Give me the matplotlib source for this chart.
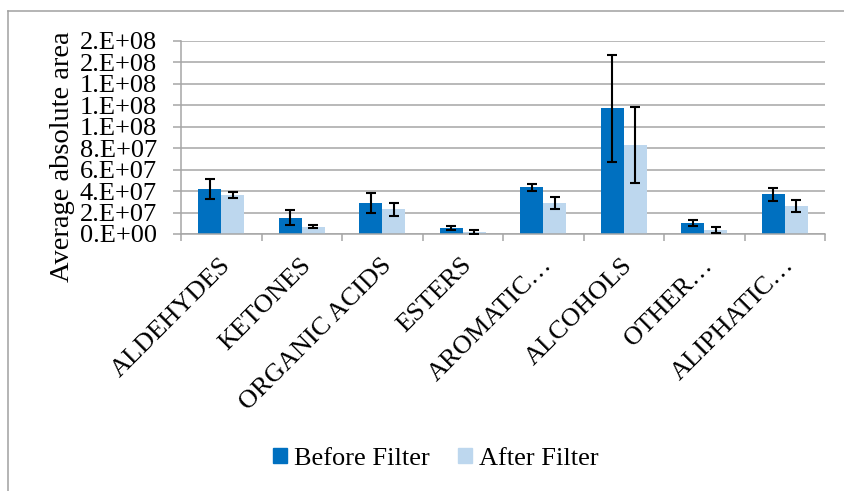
import matplotlib
matplotlib.use("Agg")
import matplotlib.pyplot as plt
from matplotlib.patches import Patch
from matplotlib.lines import Line2D
from matplotlib.ticker import FuncFormatter, MultipleLocator
import numpy as np

plt.rcParams['font.family'] = ['Liberation Serif', 'DejaVu Serif']

categories = ["ALDEHYDES", "KETONES", "ORGANIC ACIDS", "ESTERS",
              "AROMATIC…", "ALCOHOLS", "OTHER…", "ALIPHATIC…"]
before_filter = [4.22e7, 1.52e7, 2.89e7, 0.56e7, 4.34e7, 11.7e7, 1.02e7, 3.69e7]
before_err = [0.92e7, 0.68e7, 0.95e7, 0.22e7, 0.31e7, 5.0e7, 0.27e7, 0.59e7]
after_filter = [3.63e7, 0.68e7, 2.30e7, 0.19e7, 2.89e7, 8.32e7, 0.37e7, 2.60e7]
after_err = [0.28e7, 0.16e7, 0.59e7, 0.16e7, 0.53e7, 3.54e7, 0.28e7, 0.54e7]

C_BEFORE = "#0070C0"
C_AFTER = "#BDD7EE"
GRID = "#A6A6A6"
PX = 72 / 100  # points per pixel at 100 dpi
FS = 19

fig = plt.figure(figsize=(8.44, 4.91), dpi=100)
ax = fig.add_axes([181/844, 1 - 234/491, (825 - 181)/844, (234 - 40.7)/491])

x = np.arange(len(categories))
w = 0.283
ax.bar(x - w/2, before_filter, w, color=C_BEFORE, zorder=2)
ax.bar(x + w/2, after_filter, w, color=C_AFTER, zorder=2)
ekw = dict(fmt='none', ecolor='black', elinewidth=1.5, capsize=3.8, capthick=1.5, zorder=3)
ax.errorbar(x - w/2, before_filter, yerr=before_err, **ekw)
ax.errorbar(x + w/2, after_filter, yerr=after_err, **ekw)

ax.set_xlim(-0.5, len(categories) - 0.5)
ax.set_ylim(0, 1.8e8)
ax.yaxis.set_major_locator(MultipleLocator(2e7))
ax.yaxis.set_major_formatter(FuncFormatter(lambda v, p: "{:#.0E}".format(v)))
ax.grid(axis='y', color=GRID, linewidth=1.1, zorder=0)
ax.set_axisbelow(True)

# tick marks sit on the category boundaries
ax.set_xticks(np.arange(-0.5, len(categories)))
ax.set_xticklabels([])
ax.tick_params(axis='x', length=7 * PX, color=GRID, width=1.1)
ax.tick_params(axis='y', length=8 * PX, color=GRID, width=1.1, labelsize=FS,
               pad=16 * PX)

# rotated category names under each group
for xi, name in zip(x, categories):
    ax.annotate(name, xy=(xi, 0), xycoords=('data', 'axes fraction'),
                xytext=(-2 * PX, -20 * PX), textcoords='offset points',
                rotation=45, ha='right', va='top', rotation_mode='anchor',
                fontsize=FS)

for s in ['top', 'right']:
    ax.spines[s].set_visible(False)
for s in ['left', 'bottom']:
    ax.spines[s].set_color(GRID)
    ax.spines[s].set_linewidth(1.1)

ax.set_ylabel("Average absolute area", fontsize=20.5)
ax.yaxis.set_label_coords(-0.165, 0.398)

handles = [Patch(color=C_BEFORE, label="Before Filter"),
           Patch(color=C_AFTER, label="After Filter")]
fig.legend(handles=handles, loc='center', bbox_to_anchor=(435.5/844, 1 - 459/491),
           ncol=2, frameon=False, fontsize=FS, handlelength=0.53, handleheight=0.5,
           handletextpad=0.27, columnspacing=1.06, borderpad=0, borderaxespad=0)

# chart-area border (top and left edges)
fig.add_artist(Line2D([8/844, 1.0], [1 - 11/491, 1 - 11/491], color="#A0A0A0",
                      linewidth=1.1, transform=fig.transFigure))
fig.add_artist(Line2D([8/844, 8/844], [0.0, 1 - 11/491], color="#A0A0A0",
                      linewidth=1.1, transform=fig.transFigure))

fig.savefig("out.png", dpi=100)
